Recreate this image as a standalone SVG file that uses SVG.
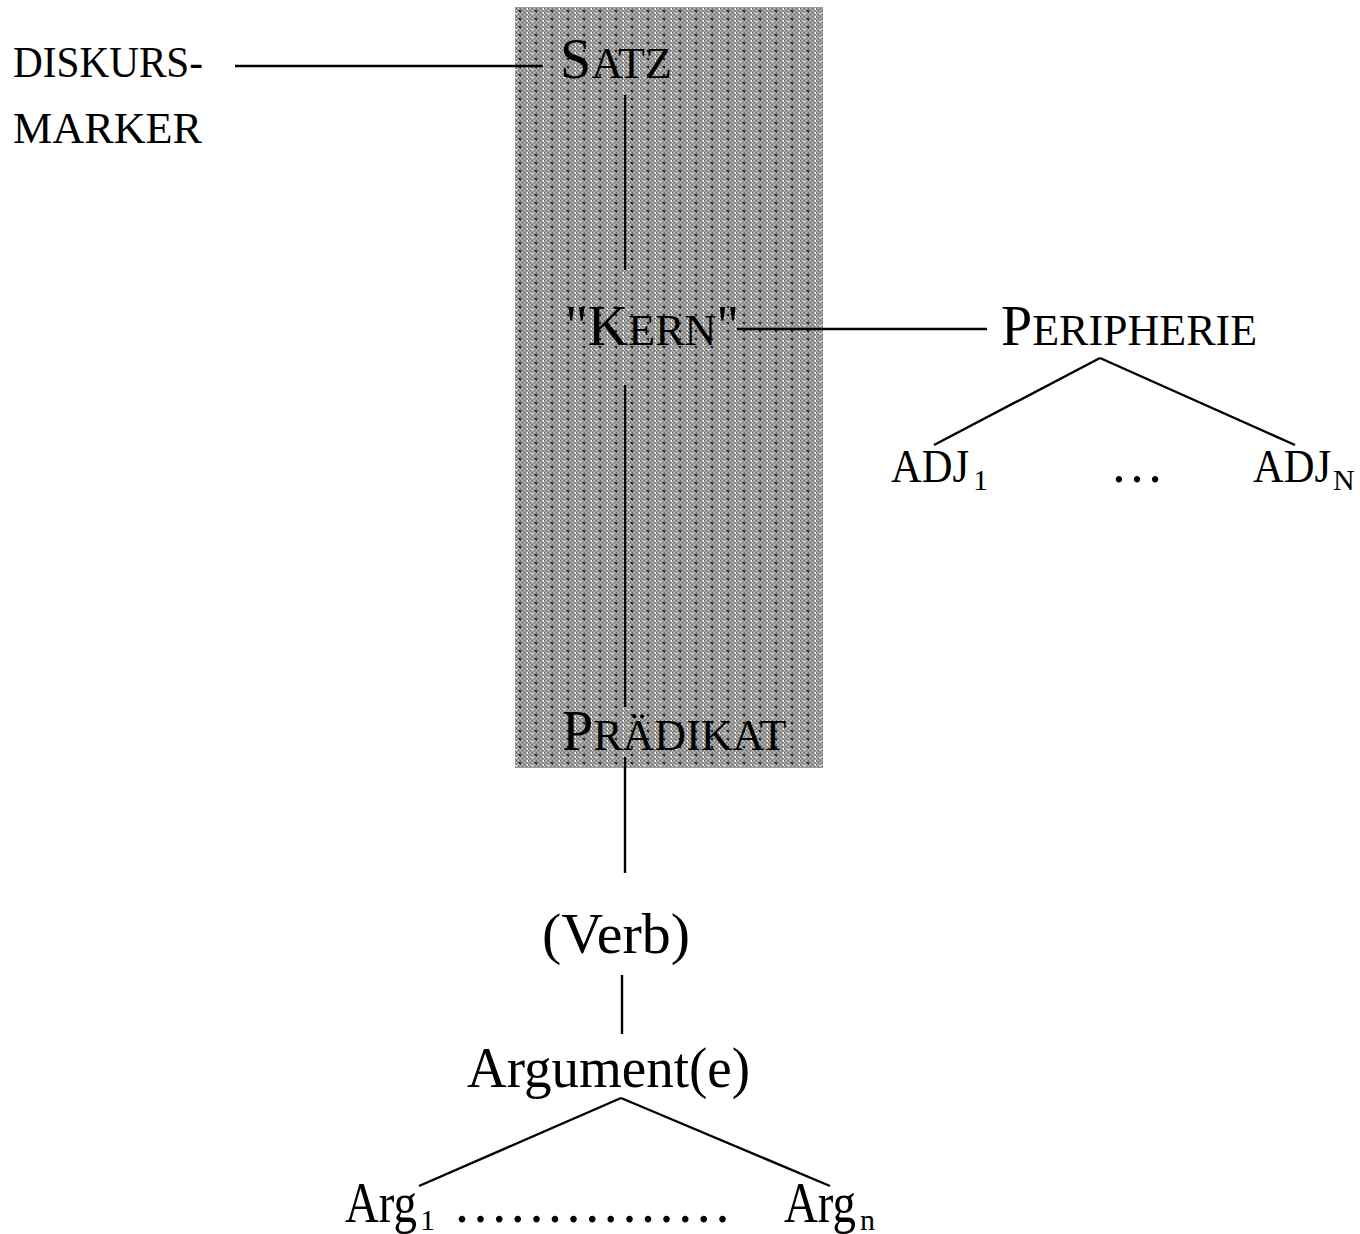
<svg xmlns="http://www.w3.org/2000/svg" width="1360" height="1234" viewBox="0 0 1360 1234">
<defs>
<pattern id="fine" x="0" y="0" width="4" height="4" patternUnits="userSpaceOnUse">
<rect width="4" height="4" fill="#999999"/>
<rect x="0" y="0" width="1" height="1" fill="#606060"/>
<rect x="2" y="2" width="1" height="1" fill="#606060"/>
<rect x="2" y="0" width="1" height="1" fill="#cacaca"/>
<rect x="0" y="2" width="1" height="1" fill="#cacaca"/>
</pattern>
<pattern id="coarse" x="515" y="7" width="16" height="8" patternUnits="userSpaceOnUse">
<rect x="4" y="3" width="2" height="2" fill="#1a1a1a"/>
<rect x="12" y="1" width="1" height="2" fill="#fff"/>
<rect x="12" y="5" width="1" height="2" fill="#fff"/>
<rect x="0" y="6" width="3" height="1" fill="#e8e8e8"/>
</pattern>
</defs>
<style>
text{font-family:"Liberation Serif","Times New Roman",serif;fill:#000}
.big{font-size:56px}
.sc{font-size:44px}
.lbl{font-size:56px}
.sub{font-size:30px}
line{stroke:#000;stroke-width:2.4}
</style>
<rect x="0" y="0" width="1360" height="1234" fill="#fff"/>
<g id="shade">
<rect x="515" y="7" width="308" height="761" fill="url(#fine)"/>
<rect x="515" y="7" width="308" height="761" fill="url(#coarse)"/>
</g>
<g id="connectors">
<line x1="235" y1="66" x2="543" y2="66"/>
<line x1="625" y1="95" x2="625" y2="270"/>
<line x1="625" y1="385" x2="625" y2="707"/>
<line x1="737" y1="329" x2="987" y2="329"/>
<line x1="1100" y1="358" x2="934" y2="445"/>
<line x1="1100" y1="358" x2="1295" y2="445"/>
<line x1="625" y1="757" x2="625" y2="873"/>
<line x1="622" y1="975" x2="622" y2="1034"/>
<line x1="621" y1="1098" x2="419" y2="1186"/>
<line x1="621" y1="1098" x2="830" y2="1186"/>
</g>
<g id="diskursmarker">
<text x="13" y="77" font-size="45" textLength="190" lengthAdjust="spacingAndGlyphs">DISKURS-</text>
<text x="13" y="143" font-size="45" textLength="189" lengthAdjust="spacingAndGlyphs">MARKER</text>
</g>
<g id="satz">
<text x="560" y="78"><tspan class="big">S</tspan><tspan class="sc">ATZ</tspan></text>
</g>
<g id="kern">
<text x="565" y="345"><tspan class="big">"K</tspan><tspan class="sc" font-size="41">ERN</tspan><tspan class="big">"</tspan></text>
</g>
<g id="peripherie">
<text x="1001" y="345"><tspan class="big">P</tspan><tspan class="sc">ERIPHERIE</tspan></text>
</g>
<g id="adj1">
<text x="891" y="482" font-size="46" textLength="78" lengthAdjust="spacingAndGlyphs">ADJ</text>
<text x="973" y="490" class="sub">1</text>
</g>
<g id="dots">
<text x="1110" y="482" font-size="54">…</text>
</g>
<g id="adjn">
<text x="1253" y="482" font-size="46" textLength="78" lengthAdjust="spacingAndGlyphs">ADJ</text>
<text x="1333" y="490" class="sub" font-size="27">N</text>
</g>
<g id="praedikat">
<text x="562" y="750"><tspan class="big">P</tspan><tspan class="sc">RÄDIKAT</tspan></text>
</g>
<g id="verb">
<text x="542" y="953" class="lbl" textLength="148" lengthAdjust="spacingAndGlyphs">(Verb)</text>
</g>
<g id="argumente">
<text x="467" y="1087" class="lbl" textLength="283" lengthAdjust="spacingAndGlyphs">Argument(e)</text>
</g>
<g id="arg1">
<text x="345" y="1222" class="lbl" textLength="72" lengthAdjust="spacingAndGlyphs">Arg</text>
<text x="420" y="1230" class="sub">1</text>
<text x="455" y="1222" font-size="56" letter-spacing="4.6">...............</text>
</g>
<g id="argn">
<text x="784" y="1222" class="lbl" textLength="72" lengthAdjust="spacingAndGlyphs">Arg</text>
<text x="860" y="1230" class="sub">n</text>
</g>
</svg>
